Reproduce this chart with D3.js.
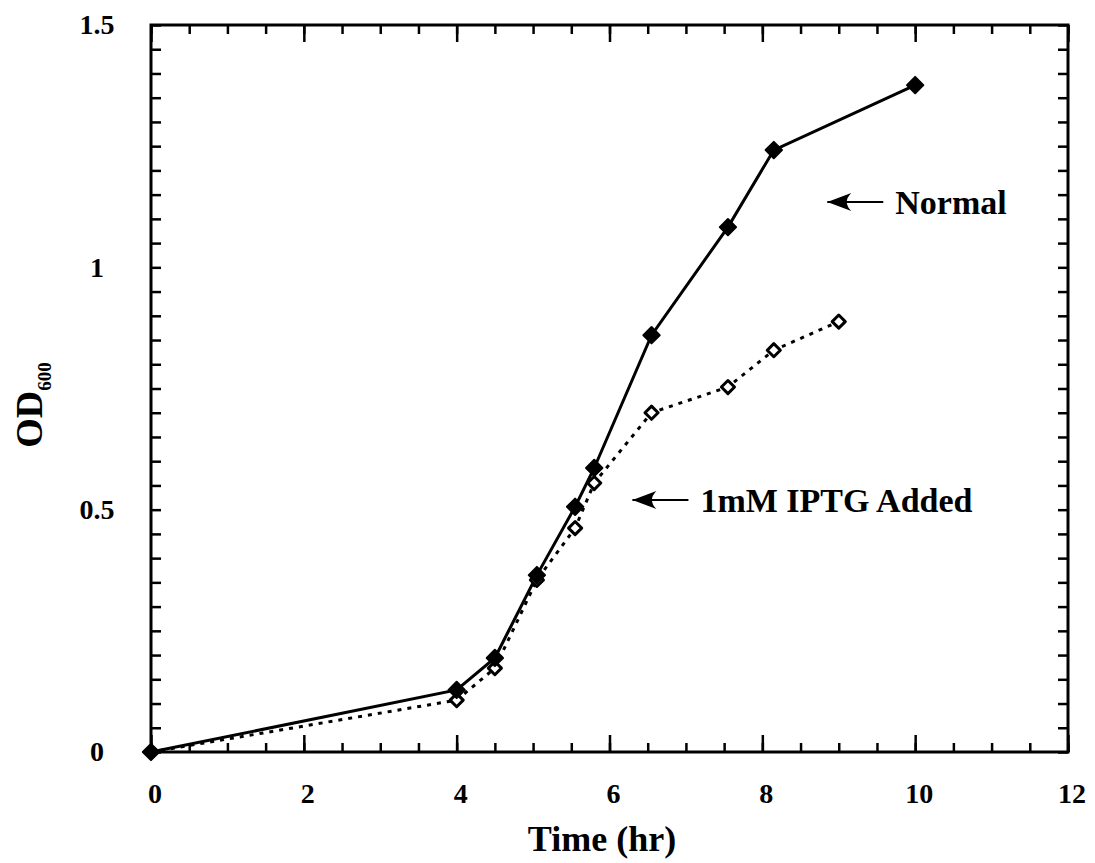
<!DOCTYPE html>
<html>
<head>
<meta charset="utf-8">
<script src="https://cdn.jsdelivr.net/npm/d3@7"></script>
<style>
    body { margin: 0; background: #fff; }
    svg text { font-family: "Liberation Serif", "DejaVu Serif", serif; font-weight: bold; fill: #000; }
</style>
</head>
<body>
<div id="chart"></div>
<script>
// Data
const timeNormal = [0, 4, 4.5, 5.05, 5.55, 5.8, 6.55, 7.55, 8.15, 10];
const odNormal = [0, 0.128, 0.194, 0.365, 0.506, 0.586, 0.86, 1.083, 1.242, 1.376];
const timeIptg = [0, 4, 4.5, 5.05, 5.55, 5.8, 6.55, 7.55, 8.15, 9];
const odIptg = [0, 0.107, 0.173, 0.355, 0.462, 0.555, 0.70, 0.753, 0.829, 0.888];
const xTickLabels = [0, 2, 4, 6, 8, 10, 12];
const yTickLabels = [0, 0.5, 1, 1.5];
const annotations = [
    { label: 'Normal', x: 8.85, y: 1.135 },
    { label: '1mM IPTG Added', x: 6.3, y: 0.52 }
];

const width = 1095, height = 863;
const plotLeft = 151, plotRight = 1068, plotTop = 25, plotBottom = 752;

const svg = d3.select('#chart').append('svg')
    .attr('width', width)
    .attr('height', height);

const x = d3.scaleLinear().domain([0, 12]).range([plotLeft, plotRight]);
const y = d3.scaleLinear().domain([0, 1.5]).range([plotBottom, plotTop]);

// Minor and major ticks on all four sides, pointing inward
const xMinor = d3.range(0, 12.01, 0.5);
const yMinor = d3.range(0, 1.501, 0.05).map(v => +v.toFixed(2));

function tickAxis(axisFn, scale, values, size) {
    return axisFn(scale).tickValues(values).tickSize(size).tickFormat('');
}

svg.append('g').attr('transform', `translate(0,${plotBottom})`)
    .call(tickAxis(d3.axisBottom, x, xMinor, -9));
svg.append('g').attr('transform', `translate(0,${plotBottom})`)
    .call(tickAxis(d3.axisBottom, x, xTickLabels, -17));
svg.append('g').attr('transform', `translate(0,${plotTop})`)
    .call(tickAxis(d3.axisTop, x, xMinor, -9));
svg.append('g').attr('transform', `translate(0,${plotTop})`)
    .call(tickAxis(d3.axisTop, x, xTickLabels, -17));
svg.append('g').attr('transform', `translate(${plotLeft},0)`)
    .call(tickAxis(d3.axisLeft, y, yMinor, -10));
svg.append('g').attr('transform', `translate(${plotRight},0)`)
    .call(tickAxis(d3.axisRight, y, yMinor, -10));

svg.selectAll('.tick line').attr('stroke', '#000').attr('stroke-width', 2.5);
svg.selectAll('.domain').remove();

// Frame
svg.append('rect')
    .attr('x', x(0)).attr('y', y(1.5))
    .attr('width', x(12) - x(0)).attr('height', y(0) - y(1.5))
    .attr('fill', 'none')
    .attr('stroke', '#000')
    .attr('stroke-width', 3);

// Tick labels
svg.append('g').selectAll('text')
    .data(xTickLabels)
    .join('text')
    .attr('x', d => x(d) + 4)
    .attr('y', 803)
    .attr('text-anchor', 'middle')
    .style('font-size', '28px')
    .text(d => d);

svg.append('g').selectAll('text')
    .data(yTickLabels)
    .join('text')
    .attr('x', 97)
    .attr('y', d => y(d))
    .attr('dy', '0.33em')
    .attr('text-anchor', 'middle')
    .style('font-size', '28px')
    .text(d => d);

// Axis titles
svg.append('text')
    .attr('x', 602)
    .attr('y', 851)
    .attr('text-anchor', 'middle')
    .style('font-size', '36px')
    .text('Time (hr)');

const yTitle = svg.append('text')
    .attr('transform', 'translate(42,405) rotate(-90)')
    .attr('text-anchor', 'middle')
    .style('font-size', '38px');
yTitle.append('tspan').text('OD');
yTitle.append('tspan').attr('dy', 9).style('font-size', '19px').text('600');

// Lines
const normalPts = timeNormal.map((t, i) => [t, odNormal[i]]);
const iptgPts = timeIptg.map((t, i) => [t, odIptg[i]]);
const line = d3.line().x(d => x(d[0])).y(d => y(d[1]));

svg.append('path')
    .datum(iptgPts)
    .attr('d', line)
    .attr('fill', 'none')
    .attr('stroke', '#000')
    .attr('stroke-width', 3)
    .attr('stroke-dasharray', '4,6');

svg.append('path')
    .datum(normalPts)
    .attr('d', line)
    .attr('fill', 'none')
    .attr('stroke', '#000')
    .attr('stroke-width', 3);

// Markers
const diamond = d3.symbol().type(d3.symbolDiamond2);

svg.append('g').selectAll('path')
    .data(iptgPts)
    .join('path')
    .attr('transform', d => `translate(${x(d[0])},${y(d[1])})`)
    .attr('d', diamond.size(110))
    .attr('fill', '#fff')
    .attr('stroke', '#000')
    .attr('stroke-width', 3)
    .attr('stroke-linejoin', 'round');

svg.append('g').selectAll('path')
    .data(normalPts)
    .join('path')
    .attr('transform', d => `translate(${x(d[0])},${y(d[1])})`)
    .attr('d', diamond.size(170))
    .attr('fill', '#000')
    .attr('stroke', '#000')
    .attr('stroke-width', 2)
    .attr('stroke-linejoin', 'round');

// Arrow annotations
const ann = svg.append('g').selectAll('g')
    .data(annotations)
    .join('g')
    .attr('transform', d => `translate(${x(d.x)},${y(d.y)})`);

ann.append('path')
    .attr('d', 'M0,0 L56,0')
    .attr('stroke', '#000')
    .attr('stroke-width', 2);
ann.append('path')
    .attr('d', 'M0,0 L24,-9 Q15,0 24,9 Z')
    .attr('fill', '#000');
ann.append('text')
    .attr('x', 68)
    .attr('dy', '0.36em')
    .style('font-size', '34px')
    .text(d => d.label);
</script>
</body>
</html>
